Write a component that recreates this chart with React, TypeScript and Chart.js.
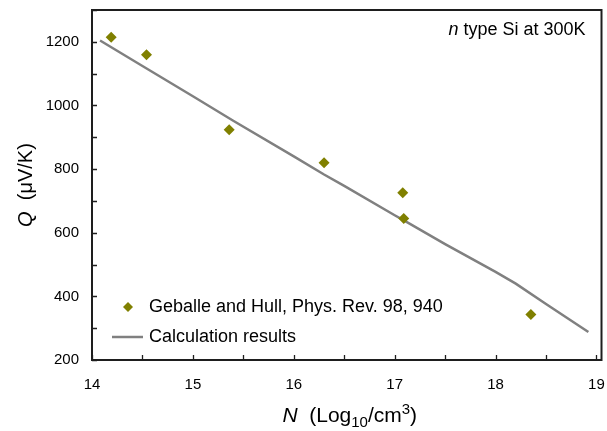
import React, { useEffect, useRef } from "react";
import { Chart, registerables } from "chart.js";

Chart.register(...registerables);

// Measured data (Geballe and Hull)
const measuredN = [14.19, 14.54, 15.36, 16.3, 17.08, 17.09, 18.35];
const measuredQ = [1214, 1159, 924, 820, 726, 645, 343];

// Calculation results
const calcN = [14.08, 14.5, 15.0, 15.4, 16.0, 16.3, 16.5, 17.0, 17.1, 17.5, 18.0, 18.2, 18.5, 18.92];
const calcQ = [1204, 1124, 1029, 952, 840, 783, 747, 655, 637, 564, 477, 440, 376, 288];

const measuredLabel = "Geballe and Hull, Phys. Rev. 98, 940";
const calcLabel = "Calculation results";
const annotationItalic = "n";
const annotationRest = " type Si at 300K";

const xMin = 14;
const xMax = 19.05;
const xTickMax = 19;
const xStep = 0.5;
const yMin = 200;
const yMax = 1300;
const yStep = 100;

const FONT = "'Liberation Sans', Arial, sans-serif";
const OLIVE = "#808000";
const GRAY = "#808080";
const AXIS = "#1e1e1e";

const framePlugin = {
  id: "frameTicks",
  beforeDatasetsDraw(chart: any) {
    const { ctx, chartArea: a, scales } = chart;
    ctx.save();
    ctx.strokeStyle = AXIS;
    ctx.lineWidth = 1.3;
    const xs = scales.x;
    const ys = scales.y;
    ctx.beginPath();
    xs.ticks.forEach((t: any) => {
      const px = Math.round(xs.getPixelForValue(t.value)) + 0.5;
      ctx.moveTo(px, a.bottom);
      ctx.lineTo(px, a.bottom - 5);
    });
    ys.ticks.forEach((t: any) => {
      const py = Math.round(ys.getPixelForValue(t.value)) + 0.5;
      ctx.moveTo(a.left, py);
      ctx.lineTo(a.left + 5, py);
    });
    ctx.stroke();
    ctx.lineWidth = 2;
    ctx.strokeRect(a.left, a.top, a.right - a.left, a.bottom - a.top);
    ctx.restore();
  },
};

const textPlugin = {
  id: "texts",
  afterDraw(chart: any) {
    const { ctx, chartArea: a } = chart;
    ctx.save();
    ctx.fillStyle = "#000";
    ctx.textBaseline = "middle";

    // Annotation top-right
    ctx.font = `18px ${FONT}`;
    const restW = ctx.measureText(annotationRest).width;
    ctx.font = `italic 18px ${FONT}`;
    const itW = ctx.measureText(annotationItalic).width;
    const annRight = a.right - 16;
    const annY = a.top + 20;
    ctx.textAlign = "left";
    ctx.fillText(annotationItalic, annRight - restW - itW, annY);
    ctx.font = `18px ${FONT}`;
    ctx.fillText(annotationRest, annRight - restW, annY);

    // Legend
    const lx = a.left + 36;
    const ly1 = a.top + 297;
    const ly2 = a.top + 327;
    ctx.fillStyle = OLIVE;
    ctx.beginPath();
    const r = 5;
    ctx.moveTo(lx, ly1 - r);
    ctx.lineTo(lx + r, ly1);
    ctx.lineTo(lx, ly1 + r);
    ctx.lineTo(lx - r, ly1);
    ctx.closePath();
    ctx.fill();
    ctx.strokeStyle = GRAY;
    ctx.lineWidth = 2.5;
    ctx.beginPath();
    ctx.moveTo(lx - 16, ly2);
    ctx.lineTo(lx + 15, ly2);
    ctx.stroke();
    ctx.fillStyle = "#000";
    ctx.font = `18px ${FONT}`;
    ctx.fillText(measuredLabel, lx + 21, ly1);
    ctx.fillText(calcLabel, lx + 21, ly2);

    // X axis title: N (Log10/cm3)
    const parts: [string, string, number][] = [
      ["N", `italic 21px ${FONT}`, 0],
      ["  (Log", `21px ${FONT}`, 0],
      ["10", `15px ${FONT}`, 5],
      ["/cm", `21px ${FONT}`, 0],
      ["3", `15px ${FONT}`, -8],
      [")", `21px ${FONT}`, 0],
    ];
    let total = 0;
    const widths = parts.map(([s, f]) => {
      ctx.font = f;
      const w = ctx.measureText(s).width;
      total += w;
      return w;
    });
    let cx = (a.left + a.right) / 2 + 3 - total / 2;
    const baseY = 422;
    ctx.textBaseline = "alphabetic";
    parts.forEach(([s, f, dy], i) => {
      ctx.font = f;
      ctx.fillText(s, cx, baseY + dy);
      cx += widths[i];
    });

    // Y axis title: Q (μV/K)
    ctx.translate(32, (a.top + a.bottom) / 2);
    ctx.rotate(-Math.PI / 2);
    ctx.font = `italic 20px ${FONT}`;
    const qW = ctx.measureText("Q").width;
    ctx.font = `20px ${FONT}`;
    const restY = "  (\u03bcV/K)";
    const rW = ctx.measureText(restY).width;
    const start = -(qW + rW) / 2;
    ctx.font = `italic 20px ${FONT}`;
    ctx.fillText("Q", start, 0);
    ctx.font = `20px ${FONT}`;
    ctx.fillText(restY, start + qW, 0);
    ctx.restore();
  },
};

const zeroPad = (s: any) => {
  s.paddingTop = 0;
  s.paddingBottom = 0;
  s.paddingLeft = 0;
  s.paddingRight = 0;
};

export default function App() {
  const ref = useRef<HTMLCanvasElement | null>(null);
  useEffect(() => {
    document.body.style.margin = "0";
    const canvas = ref.current!;
    const measured = measuredN.map((x, i) => ({ x, y: measuredQ[i] }));
    const calc = calcN.map((x, i) => ({ x, y: calcQ[i] }));
    const chart = new Chart(canvas, {
      type: "scatter",
      data: {
        datasets: [
          {
            label: calcLabel,
            data: calc,
            showLine: true,
            borderColor: GRAY,
            borderWidth: 2.5,
            pointRadius: 0,
            tension: 0,
            order: 2,
          },
          {
            label: measuredLabel,
            data: measured,
            pointStyle: "rectRot",
            pointRadius: 5.5,
            backgroundColor: OLIVE,
            borderColor: OLIVE,
            borderWidth: 0,
            order: 1,
          },
        ],
      },
      options: {
        responsive: false,
        animation: false,
        devicePixelRatio: 1,
        layout: { padding: { top: 10, right: 3, left: 0, bottom: 0 } },
        plugins: {
          legend: { display: false },
          tooltip: { enabled: false },
          title: { display: false },
        },
        scales: {
          x: {
            type: "linear",
            min: xMin,
            max: xMax,
            grid: { display: false, drawTicks: false },
            border: { display: false },
            afterBuildTicks: (s: any) => {
              const t = [];
              for (let v = xMin; v <= xTickMax + 1e-9; v += xStep) t.push({ value: v });
              s.ticks = t;
            },
            afterFit: (s: any) => {
              s.height = 71;
              zeroPad(s);
            },
            ticks: {
              autoSkip: false,
              maxRotation: 0,
              padding: 16,
              color: "#000",
              font: { family: FONT, size: 15 },
              callback: (v: any) => (Number.isInteger(Number(v)) ? String(v) : ""),
            },
          },
          y: {
            type: "linear",
            min: yMin,
            max: yMax,
            grid: { display: false, drawTicks: false },
            border: { display: false },
            afterFit: (s: any) => {
              s.width = 92;
              zeroPad(s);
            },
            ticks: {
              stepSize: yStep,
              autoSkip: false,
              padding: 13,
              color: "#000",
              font: { family: FONT, size: 15 },
              callback: (v: any) => (Number(v) % 200 === 0 ? String(v) : ""),
            },
          },
        },
      },
      plugins: [framePlugin, textPlugin],
    } as any);
    return () => chart.destroy();
  }, []);
  return <canvas ref={ref} width={607} height={431} style={{ display: "block" }} />;
}
